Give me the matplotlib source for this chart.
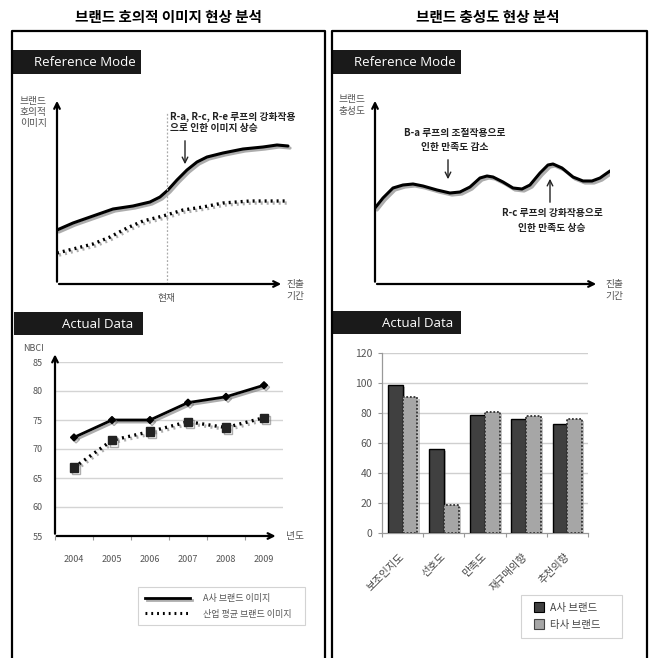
import matplotlib
matplotlib.use("Agg")
import matplotlib.pyplot as plt
import matplotlib.patheffects as pe
from matplotlib.lines import Line2D
from matplotlib.patches import Rectangle

plt.rcParams['font.family'] = ['Noto Sans CJK KR', 'DejaVu Sans']

# ---------------- data ----------------
title_left = "브랜드 호의적 이미지 현상 분석"
title_right = "브랜드 충성도 현상 분석"

# Reference mode (left): conceptual curves (time, level)
ref1_solid_t = [0, 16, 36, 56, 76, 93, 103, 111, 120, 130, 140, 150, 166, 186, 206, 220, 231]
ref1_solid_v = [54, 61, 68, 75, 78, 82, 87, 94, 104, 114, 122, 127, 131, 135, 137, 139, 138]
ref1_dot_t = [0, 16, 36, 53, 70, 86, 106, 126, 146, 166, 193, 231]
ref1_dot_v = [31, 35, 40, 47, 56, 63, 68, 74, 77, 81, 83, 83]

# Reference mode (right): oscillating loyalty
ref2_t = [0, 8, 18, 28, 38, 48, 62, 75, 85, 95, 105, 112, 118, 128, 138, 147, 155, 165, 173, 178,
          187, 198, 208, 217, 225, 235]
ref2_v = [76, 86, 96, 99, 100, 98, 94, 91, 92, 97, 106, 108, 107, 102, 96, 95, 99, 111, 119, 120,
          116, 107, 103, 103, 106, 113]

# Actual data (left): NBCI
years = ["2004", "2005", "2006", "2007", "2008", "2009"]
nbci_a = [72, 75, 75, 78, 79, 81]
nbci_ind = [66.8, 71.5, 73.0, 74.7, 73.7, 75.4]
nbci_labels = ["A사 브랜드 이미지", "산업 평균 브랜드 이미지"]

# Actual data (right): bars
bar_cats = ["보조인지도", "선호도", "만족도", "재구매의향", "추천의향"]
bar_a = [99, 56, 79, 76, 73]
bar_b = [91, 19, 81, 78, 76]
bar_labels = ["A사 브랜드", "타사 브랜드"]

# ---------------- figure ----------------
W, H = 651, 658
fig = plt.figure(figsize=(W / 100, H / 100), dpi=100)
fig.patch.set_facecolor('white')


def px_axes(x0, y0, x1, y1):
    return fig.add_axes([x0 / W, 1 - y1 / H, (x1 - x0) / W, (y1 - y0) / H])


def ftxt(x, y, s, **kw):
    return fig.text(x / W, 1 - y / H, s, **kw)


def frect(x0, y0, x1, y1, **kw):
    r = Rectangle((x0 / W, 1 - y1 / H), (x1 - x0) / W, (y1 - y0) / H,
                  transform=fig.transFigure, **kw)
    fig.patches.append(r)
    return r


# panel boxes (open at bottom)
for (x0, x1) in [(12, 325), (332, 647)]:
    fig.add_artist(Line2D([x0 / W, x0 / W, x1 / W, x1 / W],
                          [0, 1 - 31 / H, 1 - 31 / H, 0],
                          transform=fig.transFigure, color='black', lw=1.6))

# titles
ftxt(168, 17, title_left, ha='center', va='center', fontsize=10.5, fontweight='bold')
ftxt(488, 17, title_right, ha='center', va='center', fontsize=10.5, fontweight='bold')

# black header labels
for (x0, y0, x1, y1, s, cx) in [(12, 50, 141, 74, "Reference Mode", 85),
                                (332, 50, 461, 74, "Reference Mode", 405),
                                (14, 312, 143, 335, "Actual Data", 98),
                                (333, 311, 461, 334, "Actual Data", 418)]:
    frect(x0, y0, x1, y1, facecolor='#1a1a1a', edgecolor='none')
    ftxt(cx, (y0 + y1) / 2 + 1, s, ha='center', va='center', color='white',
         fontsize=9.5, family=['Open Sans', 'DejaVu Sans'])

shadow_line = [pe.SimpleLineShadow(offset=(1.5, -1.5), shadow_color='#777', alpha=0.6), pe.Normal()]

# ---------------- Reference mode left ----------------
ax1 = px_axes(57, 100, 292, 284)
ax1.set_xlim(0, 235)
ax1.set_ylim(0, 184)
ax1.axis('off')
ax1.plot(ref1_solid_t, ref1_solid_v, color='black', lw=2.2, solid_capstyle='round',
         solid_joinstyle='round', path_effects=shadow_line)
ax1.plot(ref1_dot_t, ref1_dot_v, color='black', lw=2.4, linestyle=(0, (0.6, 1.2)), path_effects=shadow_line)
ax1.plot([110, 110], [0, 171], color='#aaaaaa', lw=0.9, linestyle=(0, (1.5, 1.5)))
ax1.annotate('', xy=(0, 186), xytext=(0, -0.5), arrowprops=dict(arrowstyle='->', lw=1.6, color='black'), annotation_clip=False)
ax1.annotate('', xy=(227, 0), xytext=(-0.8, 0), arrowprops=dict(arrowstyle='->', lw=1.6, color='black'), annotation_clip=False)
ax1.annotate('', xy=(128, 117), xytext=(128, 146), arrowprops=dict(arrowstyle='->', lw=1.0, color='#222'), annotation_clip=False)
ax1.text(113, 167, "R-a, R-c, R-e 루프의 강화작용", fontsize=7, fontweight='bold', ha='left', va='center', color='#222', clip_on=False)
ax1.text(113, 156, "으로 인한 이미지 상승", fontsize=7, fontweight='bold', ha='left', va='center', color='#222', clip_on=False)

ftxt(20, 112, "브랜드\n호의적\n이미지", ha='left', va='center', fontsize=7, color='#555', linespacing=1.15)
ftxt(286, 290, "진출\n기간", ha='left', va='center', fontsize=7, color='#555', linespacing=1.15)
ftxt(167, 298, "현재", ha='center', va='center', fontsize=7, color='#555')

# ---------------- Reference mode right ----------------
ax2 = px_axes(375, 100, 610, 284)
ax2.set_xlim(0, 235)
ax2.set_ylim(0, 184)
ax2.axis('off')
ax2.plot(ref2_t, ref2_v, color='black', lw=2.2, solid_capstyle='round', solid_joinstyle='round',
         path_effects=shadow_line)
ax2.annotate('', xy=(0, 186), xytext=(0, -0.5), arrowprops=dict(arrowstyle='->', lw=1.6, color='black'), annotation_clip=False)
ax2.annotate('', xy=(224, 0), xytext=(-0.8, 0), arrowprops=dict(arrowstyle='->', lw=1.6, color='black'), annotation_clip=False)
ax2.annotate('', xy=(73, 102), xytext=(73, 127), arrowprops=dict(arrowstyle='->', lw=1.0, color='#222'), annotation_clip=False)
ax2.annotate('', xy=(175, 108), xytext=(175, 79), arrowprops=dict(arrowstyle='->', lw=1.0, color='#222'), annotation_clip=False)
ax2.text(80, 151, "B-a 루프의 조절작용으로", fontsize=7, fontweight='bold', ha='center', va='center', color='#222', clip_on=False)
ax2.text(80, 137, "인한 만족도 감소", fontsize=7, fontweight='bold', ha='center', va='center', color='#222', clip_on=False)
ax2.text(177, 71, "R-c 루프의 강화작용으로", fontsize=7, fontweight='bold', ha='center', va='center', color='#222', clip_on=False)
ax2.text(177, 56, "인한 만족도 상승", fontsize=7, fontweight='bold', ha='center', va='center', color='#222', clip_on=False)

ftxt(338, 105, "브랜드\n충성도", ha='left', va='center', fontsize=7, color='#555', linespacing=1.15)
ftxt(605, 290, "진출\n기간", ha='left', va='center', fontsize=7, color='#555', linespacing=1.15)

# ---------------- Actual data left (line) ----------------
ax3 = px_axes(55, 362, 283, 536)
x = list(range(len(years)))
ax3.set_xlim(-0.5, len(years) - 0.5)
ax3.set_ylim(55, 85)
ax3.set_yticks([55, 60, 65, 70, 75, 80, 85])
for yv in [60, 65, 70, 75, 80, 85]:
    ax3.axhline(yv, color='#d4d4d4', lw=1, zorder=0)
for s in ax3.spines.values():
    s.set_visible(False)
ax3.set_xticks([i - 0.5 for i in range(len(years))])
ax3.set_xticklabels([])
ax3.set_xticks(x, minor=True)
ax3.set_xticklabels(years, minor=True, fontsize=6.5, color='#555')
ax3.tick_params(axis='x', which='major', length=3, color='#999', direction='out')
ax3.tick_params(axis='x', which='minor', length=0, pad=14)
ax3.tick_params(axis='y', length=0, labelsize=6.5, labelcolor='#555', pad=9)
ax3.annotate('', xy=(0, 1.06), xytext=(0, -0.003), xycoords='axes fraction',
             arrowprops=dict(arrowstyle='->', lw=1.6, color='black'), annotation_clip=False)
ax3.annotate('', xy=(0.98, 0), xytext=(-0.005, 0), xycoords='axes fraction',
             arrowprops=dict(arrowstyle='->', lw=1.6, color='black'), annotation_clip=False)
l1, = ax3.plot(x, nbci_a, color='black', lw=2, marker='D', ms=3.5, path_effects=shadow_line, clip_on=False, zorder=3)
l2, = ax3.plot(x, nbci_ind, color='black', lw=2.4, linestyle=(0, (0.6, 1.3)), marker='s', ms=6,
               markerfacecolor='#222', markeredgecolor='#222', path_effects=shadow_line, clip_on=False, zorder=3)
ftxt(23, 349, "NBCI", ha='left', va='center', fontsize=6.5, color='#555')
ftxt(286, 536, "년도", ha='left', va='center', fontsize=7, color='#555')

h1 = Line2D([], [], color='black', lw=2, path_effects=shadow_line)
h2 = Line2D([], [], color='black', lw=2.2, linestyle=(0, (0.6, 1.3)))
leg1 = ax3.legend([h1, h2], nbci_labels, loc='upper left',
                  bbox_to_anchor=(138 / W, 1 - 627 / H, 167 / W, 40 / H), bbox_transform=fig.transFigure,
                  mode='expand',
                  fontsize=6.5, frameon=True, fancybox=False, edgecolor='#c8c8c8',
                  handlelength=5.0, handletextpad=1.4, borderpad=0.75, labelspacing=0.75,
                  borderaxespad=0)
for t in leg1.get_texts():
    t.set_color('#555')
leg1.get_frame().set_linewidth(0.8)

# ---------------- Actual data right (bars) ----------------
ax4 = px_axes(382, 353, 588, 533)
xb = list(range(len(bar_cats)))
ax4.set_xlim(-0.5, len(bar_cats) - 0.5)
ax4.set_ylim(0, 120)
ax4.set_yticks(range(0, 121, 20))
for yv in range(20, 121, 20):
    ax4.axhline(yv, color='#cfcfcf', lw=1, zorder=0)
for k in ['top', 'right']:
    ax4.spines[k].set_visible(False)
for k in ['left', 'bottom']:
    ax4.spines[k].set_color('#999')
    ax4.spines[k].set_linewidth(0.9)
bar_shadow = [pe.SimplePatchShadow(offset=(1.5, -1.5), shadow_rgbFace='#888', alpha=0.5), pe.Normal()]
bw = 0.36
ax4.bar([i - 0.18 for i in xb], bar_a, width=bw, color='#404040', edgecolor='black', lw=1.0,
        zorder=3, path_effects=bar_shadow)
ax4.bar([i + 0.18 for i in xb], bar_b, width=bw, color='#a6a6a6', edgecolor='#333', lw=1.3,
        linestyle=(0, (1, 1)), zorder=3, path_effects=bar_shadow)
ax4.set_xticks([i - 0.5 for i in range(len(bar_cats) + 1)])
ax4.set_xticklabels([])
ax4.set_xticks(xb, minor=True)
ax4.set_xticklabels(bar_cats, minor=True, rotation=45, ha='right', va='center',
                    rotation_mode='anchor', fontsize=7.5, color='#444')
ax4.tick_params(axis='x', which='major', length=3, color='#999', direction='out')
ax4.tick_params(axis='x', which='minor', length=0, pad=16)
ax4.tick_params(axis='y', length=3, color='#999', labelsize=7.5, labelcolor='#555', pad=4)

hb1 = Line2D([], [], linestyle='none', marker='s', ms=6.5, markerfacecolor='#404040',
             markeredgecolor='black', markeredgewidth=0.8)
hb2 = Line2D([], [], linestyle='none', marker='s', ms=6.5, markerfacecolor='#a6a6a6',
             markeredgecolor='#444', markeredgewidth=0.8)
leg2 = ax4.legend([hb1, hb2], bar_labels, loc='upper left',
                  bbox_to_anchor=(521 / W, 1 - 634 / H, 101 / W, 39 / H), bbox_transform=fig.transFigure,
                  mode='expand',
                  fontsize=7.5, frameon=True, fancybox=False, edgecolor='#c8c8c8',
                  handlelength=2.0, handletextpad=0.0, borderpad=0.75,
                  labelspacing=0.7, borderaxespad=0)
for t in leg2.get_texts():
    t.set_color('#444')
leg2.get_frame().set_linewidth(0.8)

fig.savefig("out.png", dpi=100, facecolor='white')
